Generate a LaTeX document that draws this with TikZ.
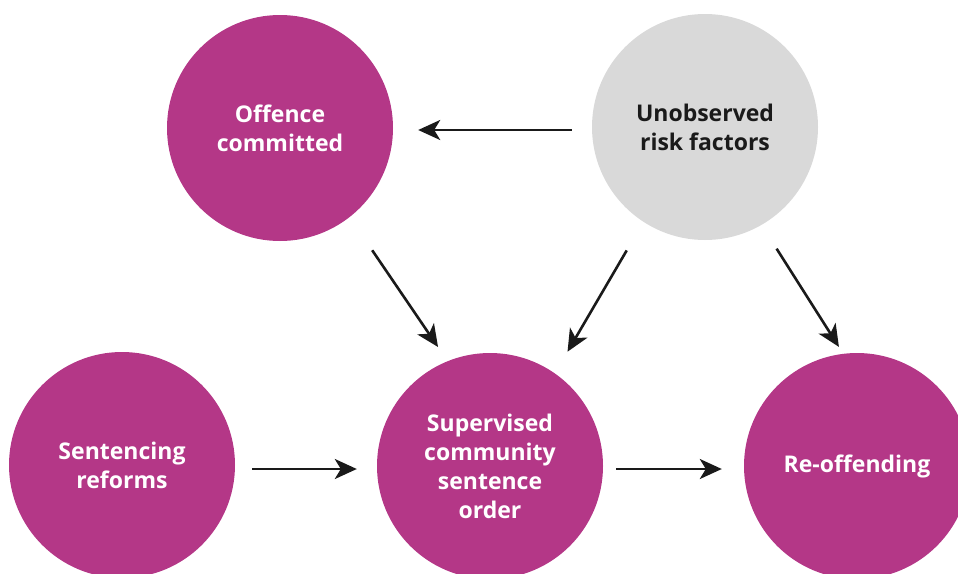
\documentclass[tikz,border=0pt]{standalone}
\usepackage{fontspec}
\setmainfont{Open Sans}
\usepackage{tikz}
\usetikzlibrary{arrows.meta}
\definecolor{causal}{HTML}{B43787}
\definecolor{hidden}{HTML}{D9D9D9}
\definecolor{ink}{HTML}{1A1A1A}

\begin{document}
\begin{tikzpicture}[x=1pt, y=-1pt,
    blob/.style={circle, minimum size=226pt, inner sep=0pt, align=center,
      font=\fontsize{23}{29}\selectfont\bfseries},
    obs/.style={blob, fill=causal, text=white},
    unobs/.style={blob, fill=hidden, text=ink},
    arr/.style={line width=2.6pt, ink, -{Stealth[length=22pt, width=20pt, inset=6pt]}}]
  \useasboundingbox (0,0) rectangle (958,573);
  % top row
  \node[obs] (offence) at (280,128) {Offence\\committed};
  \node[unobs] (risk) at (705,127) {Unobserved\\risk factors};
  % bottom row
  \node[obs] (reform) at (122,465) {Sentencing\\reforms};
  \node[obs] (order) at (490,466) {Supervised\\community\\sentence\\order};
  \node[obs] (reoff) at (857,466) {Re-offending};
  % arrows
  \draw[arr, shorten <=20pt, shorten >=25pt] ([yshift=-3pt]risk.180) -- ([yshift=-2pt]offence.0);
  \draw[arr, shorten <=40pt, shorten >=17pt] (offence.-52.5) -- (order.112.6);
  \draw[arr, shorten <=33pt, shorten >=25pt] (risk.-123.6) -- (order.55.6);
  \draw[arr, shorten <=28pt, shorten >=8pt] (risk.-60.2) -- (reoff.97.1);
  \draw[arr, shorten <=17pt, shorten >=20pt] ([yshift=-4pt]reform.0) -- ([yshift=-3pt]order.180);
  \draw[arr, shorten <=13pt, shorten >=22pt] ([yshift=-3pt]order.0) -- ([yshift=-3pt]reoff.180);
\end{tikzpicture}
\end{document}
